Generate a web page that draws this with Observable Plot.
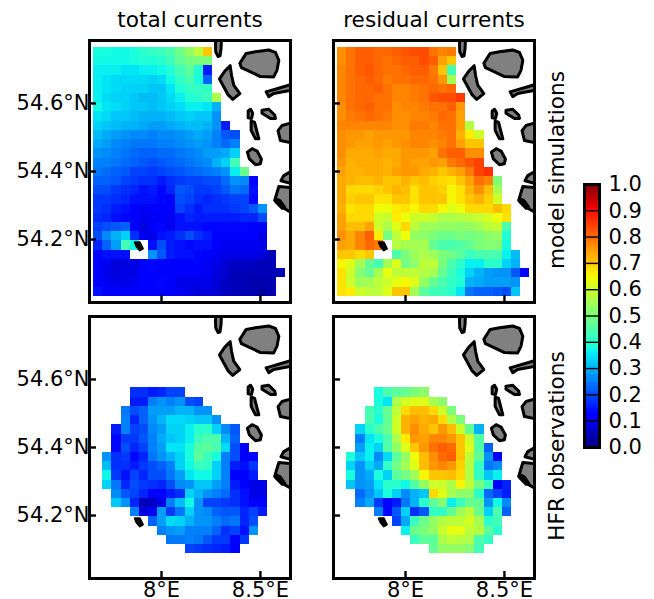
<!DOCTYPE html>
<html><head><meta charset="utf-8">
<script src="https://cdn.jsdelivr.net/npm/d3@7"></script>
<script src="https://cdn.jsdelivr.net/npm/@observablehq/plot@0.6"></script>
<style>
html,body{margin:0;padding:0;background:#fff}
#chart{position:relative;width:654px;height:599px;overflow:hidden;font-family:"DejaVu Sans";color:#000}
#chart svg{position:absolute;background:transparent;overflow:visible}
.t{position:absolute;font-size:21.6px;white-space:nowrap;line-height:24px}
</style></head><body><div id="chart"></div>
<script>
// Grid (degrees): 21 columns x 27 rows
const lonStart = 7.6564, lonStep = 0.0463, latStart = 54.7647, latStep = 0.02709;
const xTicks = [8, 8.5], yTicks = [54.2, 54.4, 54.6];
const colorTicks = [0,.1,.2,.3,.4,.5,.6,.7,.8,.9,1];
const jetStops = [0,.11,.125,.35,.375,.64,.66,.89,.91,1];
const jetColors = ["#00007f","#0000ff","#0000ff","#00e6f7","#15ffe2","#eeff08","#ffec00","#ff1300","#e80000","#7f0000"];

// speed x 100, model simulations, total currents (rows north to south)
const modelTotal = [
[38,38,37,37,38,40,41,42,44,48,53,58,70],
[37,37,37,37,38,39,39,40,42,47,49,50,50],
[36,36,36,35,35,36,36,37,39,43,46,39,15],
[36,35,34,34,34,34,33,34,37,41,44,38,22],
[36,35,34,33,33,33,32,32,35,39,41,41,41],
[36,34,33,33,32,31,31,32,34,36,39,40,42,56],
[37,35,34,33,32,32,31,32,33,34,36,36,35,30],
[35,34,32,32,31,30,30,30,31,32,33,32,32,27],
[33,32,31,30,30,29,28,28,29,30,31,31,30,27,15],
[31,29,28,27,26,26,25,26,26,27,28,29,28,25,21,20],
[29,28,26,25,24,24,24,25,25,26,27,28,27,25,23,25],
[27,26,25,24,23,22,22,23,23,24,25,26,28,28,29,33],
[25,25,24,23,22,21,20,21,22,23,24,25,26,30,33,43],
[24,23,22,21,19,19,18,19,20,21,22,23,24,25,27,36,48],
[22,22,21,19,18,17,17,15,17,18,19,19,20,20,23,27,26,11],
[20,20,18,17,16,14,15,13,16,21,20,18,18,19,21,24,23,14],
[18,18,17,16,14,14,14,13,12,20,19,17,16,17,18,19,19,13],
[18,17,15,14,11,10,12,12,11,19,17,15,17,17,17,18,19,21,27],
[17,16,14,13,11,10,10,11,10,14,16,15,15,15,15,15,16,16,20],
[19,20,21,22,12,8,11,13,10,14,14,14,13,13,13,13,13,12,11],
[20,26,30,33,17,10,9,14,15,17,20,17,15,12,12,12,11,11,9],
[16,22,28,43,37,null,14,20,15,14,13,14,14,11,10,10,10,10,9],
[13,14,14,14,null,null,27,21,15,14,14,13,12,10,9,9,9,9,8,5],
[12,10,8,8,9,12,13,12,11,11,11,11,10,9,7,6,6,6,5,5],
[11,9,8,9,9,12,12,12,12,12,12,11,10,8,7,5,5,5,5,5,5],
[12,10,9,9,10,11,12,13,12,9,9,9,9,8,6,5,5,4,4,4],
[14,12,11,11,11,12,12,12,11,10,9,8,8,7,6,5,5,4,3,4]
];
// speed x 100, model simulations, residual currents
const modelResidual = [
[76,79,81,81,80,80,81,82,83,83,79,77,78],
[76,79,81,81,80,79,80,81,81,83,81,74,70],
[77,79,81,82,80,79,79,80,81,81,78,70,43],
[77,79,80,81,80,78,79,79,80,80,79,75,55],
[77,79,80,80,81,79,77,77,78,79,80,79,80],
[77,79,80,80,79,79,77,77,78,79,82,83,83,85],
[76,79,80,81,79,79,76,77,77,78,79,79,81,75],
[76,78,79,80,79,78,76,76,77,77,78,80,79,74],
[77,77,77,77,77,77,76,76,78,78,77,79,79,74,57],
[76,75,75,74,75,75,75,75,77,77,77,78,79,72,66,60],
[76,75,74,74,75,74,75,76,77,77,76,77,79,74,70,70],
[76,73,73,73,74,73,73,75,75,75,74,79,81,81,76,76],
[75,72,73,73,73,72,73,75,74,74,75,74,78,80,82,84],
[74,72,72,73,73,72,74,75,75,73,72,70,72,74,78,84,86],
[73,72,71,71,72,70,70,72,70,71,69,68,67,70,74,79,77,50],
[73,68,68,68,69,70,72,71,67,70,70,69,65,67,72,76,71,55],
[73,69,70,70,67,67,70,70,67,70,70,70,65,67,70,72,69,60],
[72,67,68,68,64,64,66,67,65,68,68,65,62,64,68,68,68,71,68],
[74,68,68,68,60,59,66,64,60,60,59,56,56,57,58,59,61,64,67],
[74,71,71,74,60,56,62,68,58,54,54,53,53,52,53,55,58,59,44],
[76,73,77,81,66,49,58,64,53,52,50,48,48,50,49,50,52,53,39],
[74,73,77,80,78,null,57,55,55,55,47,44,44,45,47,50,51,51,38],
[70,70,68,70,null,null,44,50,54,56,54,50,49,46,42,44,44,44,36,31],
[65,62,55,47,43,55,62,49,52,58,58,50,44,40,36,36,40,40,33,30],
[67,60,51,47,55,63,58,58,58,57,55,47,42,38,33,30,28,27,27,21,12],
[67,60,54,55,58,60,63,65,62,53,47,44,41,39,30,29,28,28,28,27],
[67,66,60,58,58,62,70,70,55,46,42,42,40,35,24,22,22,21,20,32]
];
// HFR observations cover rows 7 to 24; first column of each row
const obsStart = [4,4,3,3,2,2,2,1,1,1,1,2,2,4,6,7,8,10];
const obsTotal = [
[17,17,15,16,19,19],
[15,15,25,27,25,27,20,19],
[24,20,22,28,28,28,30,30,27,27],
[25,16,22,27,30,34,34,33,32,32,27],
[15,25,19,20,26,28,33,33,36,40,40,33,26,21],
[13,18,18,21,25,29,32,33,36,42,44,44,30,22],
[13,20,16,19,25,28,35,35,38,45,46,44,34,20,11],
[27,17,18,13,16,24,27,30,33,38,46,42,38,25,20,12,11],
[31,17,17,15,18,20,22,25,33,37,42,41,33,25,15,14,18],
[37,18,14,19,16,20,20,24,28,35,37,37,33,25,12,12,15],
[33,24,16,20,18,17,16,20,26,27,32,32,28,25,15,12,9,9],
[26,21,19,16,12,11,15,17,33,30,27,25,23,17,14,9,9],
[32,27,16,5,6,9,25,31,37,27,19,19,18,17,14,11,11],
[25,8,10,28,18,24,33,27,26,22,21,21,16,19,15],
[22,28,34,33,30,27,27,25,23,24,16,20],
[25,27,28,25,25,25,22,17,19,14,27],
[24,24,25,24,21,18,18,11,18],
[19,18,17,16,15,12]
];
const obsResidual = [
[38,44,46,47,50,52],
[38,35,56,61,62,62,55,52],
[43,40,47,58,68,71,71,68,60,50],
[44,38,47,60,72,74,72,73,68,57,50],
[33,40,44,48,60,72,76,73,70,75,71,60,47,30],
[25,35,38,44,56,66,75,74,77,77,75,70,60,45],
[28,36,33,45,52,62,70,75,79,81,80,70,62,45,22],
[39,32,36,26,34,46,53,64,71,76,80,81,70,58,47,27,10],
[33,27,33,29,41,49,55,62,71,75,77,75,69,57,41,24,26],
[38,27,29,38,33,46,49,54,65,70,70,71,68,57,41,32,36],
[32,27,28,35,40,40,37,45,53,60,60,56,65,58,49,42,12,16],
[23,27,32,38,33,26,30,32,68,62,55,52,52,40,23,19,15],
[25,29,18,13,15,24,30,40,47,51,36,42,47,47,27,37,26],
[25,12,21,33,17,21,41,41,47,54,58,48,33,44,22],
[19,29,42,48,53,57,58,58,61,55,40,43],
[36,48,50,53,59,63,63,58,57,46,40],
[42,46,46,56,58,57,56,44,41],
[47,53,53,53,51,43]
];
// Coastlines as [lon, lat]
const islandA = [[8.274,54.79],[8.303,54.79],[8.301,54.762],[8.296,54.740],[8.286,54.738],[8.274,54.752],[8.273,54.770],[8.274,54.79]];
const islandB = [[8.396,54.718],[8.428,54.747],[8.475,54.752],[8.542,54.757],[8.576,54.750],[8.593,54.727],[8.584,54.698],[8.567,54.678],[8.500,54.679],[8.450,54.693],[8.404,54.705],[8.396,54.718]];
const islandC = [[8.347,54.711],[8.354,54.683],[8.365,54.654],[8.396,54.629],[8.360,54.612],[8.337,54.625],[8.293,54.672],[8.320,54.695],[8.347,54.711]];
const islandD = [[8.529,54.634],[8.67,54.658],[8.67,54.640],[8.567,54.629],[8.542,54.620],[8.529,54.634]];
const islandE = [[8.438,54.578],[8.450,54.583],[8.461,54.571],[8.455,54.556],[8.438,54.558],[8.438,54.578]];
const islandF = [[8.508,54.580],[8.542,54.583],[8.572,54.566],[8.576,54.556],[8.551,54.556],[8.508,54.571],[8.508,54.580]];
const islandG = [[8.453,54.548],[8.470,54.545],[8.492,54.496],[8.475,54.496],[8.453,54.521],[8.453,54.548]];
const islandH = [[8.67,54.545],[8.609,54.535],[8.589,54.520],[8.601,54.491],[8.67,54.483],[8.67,54.545]];
const islandI = [[8.434,54.457],[8.458,54.467],[8.483,54.460],[8.505,54.437],[8.500,54.423],[8.475,54.420],[8.444,54.437],[8.434,54.457]];
const islandJ = [[8.67,54.405],[8.618,54.388],[8.604,54.373],[8.67,54.362],[8.67,54.405]];
const islandK = [[8.67,54.352],[8.593,54.356],[8.572,54.315],[8.609,54.295],[8.67,54.275],[8.67,54.352]];
const sandbank = [[8.584,54.320],[8.576,54.310],[8.609,54.290],[8.626,54.295],[8.601,54.315],[8.584,54.320]];
const islet = [[7.865,54.192],[7.890,54.192],[7.906,54.173],[7.890,54.168],[7.874,54.179],[7.865,54.192]];
const islands = [islandA,islandB,islandC,islandD,islandE,islandF,islandG,islandH,islandI,islandJ,islandK];
const blackShapes = [sandbank,islet];

const colorScale = {type:"linear", domain:jetStops, range:jetColors, interpolate:"rgb", clamp:true};
const font = {fontFamily:"DejaVu Sans", fontSize:"21px", color:"#000", background:"transparent"};

function cellsOf(rows, starts, rowOffset){
  const out = [];
  rows.forEach((row,j)=>row.forEach((v,i)=>{
    if (v==null) return;
    const c = i+(starts?starts[j]:0), r = j+rowOffset;
    out.push({lon0:lonStart+c*lonStep, lon1:lonStart+(c+1)*lonStep, lat0:latStart-r*latStep, lat1:latStart-(r+1)*latStep, v:v/100});
  }));
  return out;
}
const panelW=201, panelH=262, mL=80, mR=6, mT=6, mB=20;
function panel(left, top, cells, showX, showY){
  const plot = Plot.plot({
    width:panelW+mL+mR, height:panelH+mT+mB,
    marginLeft:mL, marginRight:mR, marginTop:mT, marginBottom:mB,
    style:font,
    x:{domain:[7.636,8.652], label:null, axis:null},
    y:{domain:[54.015,54.785], label:null, axis:null},
    color:colorScale,
    marks:[
      Plot.rect(cells,{x1:"lon0",x2:"lon1",y1:"lat0",y2:"lat1",fill:"v",shapeRendering:"crispEdges"}),
      ...islands.map(p=>Plot.line(p,{x:d=>d[0],y:d=>d[1],fill:"#808080",stroke:"#000",strokeWidth:3,curve:"linear",clip:"frame"})),
      ...blackShapes.map(p=>Plot.line(p,{x:d=>d[0],y:d=>d[1],fill:"#000",stroke:"#000",strokeWidth:2,curve:"linear",clip:"frame"})),
      Plot.axisX(xTicks,{anchor:"bottom",tickSize:-7,strokeWidth:2.4,tickPadding:11,label:null,tickFormat:d=>d+"°E",fill:showX?"#000":"none"}),
      Plot.axisY(yTicks,{anchor:"left",tickSize:-7,strokeWidth:2.4,tickPadding:7,label:null,tickFormat:d=>d.toFixed(1)+"°N",fill:showY?"#000":"none"}),
      Plot.frame({stroke:"#000",strokeWidth:3})
    ]
  });
  plot.style.left=(left-mL)+"px"; plot.style.top=(top-mT)+"px";
  chart.appendChild(plot);
}
const chart = document.getElementById("chart");
panel(89,40,cellsOf(modelTotal,null,0),false,true);
panel(332.6,40,cellsOf(modelResidual,null,0),false,false);
panel(89,316,cellsOf(obsTotal,obsStart,7),true,true);
panel(332.6,316,cellsOf(obsResidual,obsStart,7),true,false);

// colour bar
const barLevels = d3.range(0,1,0.004);
const bar = Plot.plot({
  width:15+6+60, height:263+20,
  marginLeft:3, marginRight:63, marginTop:10, marginBottom:10,
  style:font,
  x:{domain:[0,1],axis:null,label:null},
  y:{domain:[0,1],axis:null,label:null},
  color:colorScale,
  marks:[
    Plot.rect(barLevels,{x1:0,x2:1,y1:d=>d,y2:d=>d+0.004,fill:d=>d,shapeRendering:"crispEdges"}),
    Plot.ruleY(colorTicks,{stroke:"#000",strokeWidth:1.4}),
    Plot.axisY(colorTicks,{anchor:"right",tickSize:0,tickPadding:9,label:null,tickFormat:d=>d.toFixed(1)}),
    Plot.frame({stroke:"#000",strokeWidth:3})
  ]
});
bar.style.left=(584-3)+"px"; bar.style.top=(184-10)+"px";
chart.appendChild(bar);

function label(text,cx,cy,rot){
  const d=document.createElement("div");
  d.className="t"; d.textContent=text;
  d.style.left=cx+"px"; d.style.top=cy+"px";
  d.style.transform="translate(-50%,-50%)"+(rot?" rotate(-90deg)":"");
  chart.appendChild(d);
}
label("total currents",190,20);
label("residual currents",434,20);
label("model simulations",557,170,true);
label("HFR observations",557,446,true);
</script></body></html>
